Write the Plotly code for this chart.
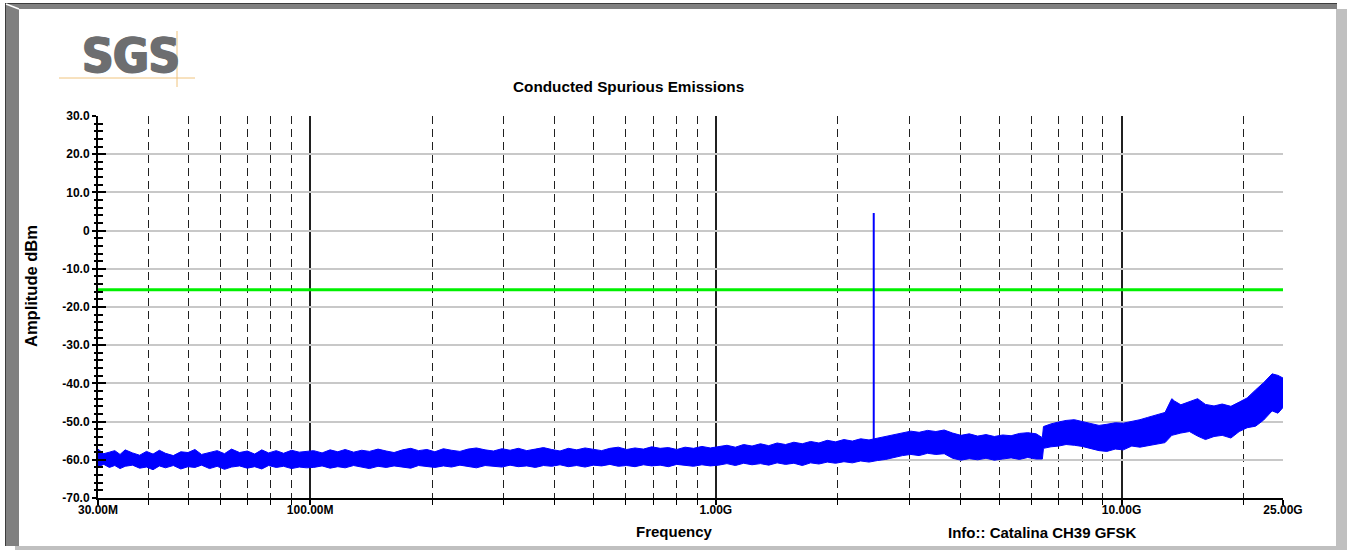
import plotly.graph_objects as go

# ---- chart data -------------------------------------------------------------
# sweep frequencies (MHz) at which the trace envelope is given
FREQ_MHZ = [
    30, 31, 32, 33, 34, 35, 36.5, 38, 39.5, 41, 42.5, 44, 46, 48, 50, 52, 54, 56.5, 59, 61.5,
    64, 67, 70, 73, 76, 79, 82.5, 86, 90, 94, 98,
    102, 107, 112, 117, 122, 128, 134, 140, 147, 154, 161, 169, 177, 185, 194, 203, 213, 223, 234,
    245, 257, 270, 283, 297, 311, 326, 342, 359, 376, 394, 413, 433, 454, 476, 499, 523, 548, 575,
    603, 632, 663, 695, 729, 764, 801, 840, 881, 924, 969,
    1016, 1065, 1117, 1171, 1228, 1288, 1350, 1416, 1485, 1557, 1633, 1712, 1795, 1882, 1973, 2069,
    2170, 2275, 2385, 2501, 2623, 2750, 2884, 3024, 3170, 3325, 3486, 3655, 3833, 4019, 4214, 4419,
    4633, 4858, 5094, 5342, 5601, 5873, 6158,
    6380, 6420, 6700, 7000, 7300, 7650, 8000, 8400, 8800, 9200, 9650, 10100, 10600, 11100, 11600,
    12200, 12800, 13300, 13500, 14000, 14700, 15400, 16100, 16900, 17700, 18600, 19500, 20400,
    21400, 22400, 23500, 24300, 25000,
]

# upper edge of the measured noise trace (dBm)
TRACE_MAX_DBM = [
    -57.2, -58.4, -58.0, -57.6, -58.6, -57.4, -58.2, -58.8, -57.8, -58.5, -57.5, -58.3, -58.9, -57.9,
    -58.1, -57.3, -58.6, -58.0, -57.6, -58.4, -57.2, -58.1, -57.7, -58.5, -57.4, -58.2, -57.6, -58.3,
    -57.5, -58.0, -57.8,
    -57.6, -58.2, -57.4, -57.9, -57.3, -58.0, -57.5, -57.8, -57.2, -57.7, -58.1, -57.4, -57.0, -57.6,
    -57.3, -57.9, -57.1, -57.5, -57.8, -57.2, -56.9, -57.4, -57.7, -57.1, -57.5, -57.0, -57.6, -57.2,
    -56.8, -57.3, -57.7, -57.0, -57.4, -56.9, -57.2, -57.6, -57.0, -56.7, -57.3, -56.9, -57.2, -56.6,
    -57.0, -56.8, -57.3, -56.7, -57.0, -56.5, -56.9,
    -56.6, -56.2, -56.7, -56.0, -56.4, -55.8, -56.3, -55.6, -56.0, -55.4, -55.8, -55.2, -55.6, -54.9,
    -55.3, -54.7, -55.1, -54.5, -54.8, -54.3, -53.9, -53.4, -52.9, -52.5, -52.8, -52.3, -52.6, -52.2,
    -53.0, -53.6, -53.2, -53.8, -53.4, -53.9, -53.5, -53.7, -53.1, -52.9, -53.2,
    -54.2, -51.3, -50.6, -50.1, -49.7, -49.5, -50.0, -50.6, -51.0, -50.7, -50.3, -50.4, -50.0, -49.5,
    -48.9, -48.3, -47.6, -44.0, -44.6, -45.6, -44.8, -44.0, -45.5, -45.9, -45.4, -46.0, -44.9, -43.8,
    -41.7, -39.8, -37.5, -37.9, -38.6,
]

# lower edge of the measured noise trace (dBm)
TRACE_MIN_DBM = [
    -61.8, -61.2, -62.0, -61.5, -62.3, -61.7, -61.4, -62.2, -61.9, -62.6, -61.6, -62.1, -61.5, -62.4,
    -61.8, -62.0, -61.4, -62.3, -61.7, -62.5, -61.9, -61.6, -62.2, -61.8, -62.4, -61.5, -62.0, -61.7,
    -62.3, -61.9, -62.1,
    -62.0, -61.6, -62.2, -61.8, -62.1, -61.5, -61.9, -62.3, -61.7, -62.0, -61.6, -61.9, -62.2, -61.5,
    -61.8, -62.0, -61.6, -61.9, -61.4, -61.8, -62.1, -61.5, -61.7, -61.9, -61.4, -61.8, -61.6, -62.0,
    -61.5, -61.7, -61.3, -61.8, -61.5, -61.9, -61.4, -61.6, -61.2, -61.7, -61.5, -61.8, -61.3, -61.6,
    -61.4, -61.8, -61.2, -61.5, -61.7, -61.3, -61.6,
    -61.4, -61.0, -61.5, -60.9, -61.3, -61.0, -61.4, -60.8, -61.2, -60.9, -61.5, -60.8, -61.1, -60.6,
    -60.9, -60.5, -60.8, -60.3, -60.6, -60.2, -59.9, -59.4, -58.9, -58.6, -58.9, -58.3, -58.6, -58.4,
    -59.6, -60.1, -59.7, -60.0, -59.6, -60.1, -59.8, -59.5, -59.9, -59.4, -59.8,
    -59.8, -57.0, -56.6, -56.4, -56.0, -56.2, -56.5, -57.0, -57.6, -57.8, -57.2, -57.4, -56.4, -56.7,
    -56.3, -55.9, -55.5, -53.6, -53.4, -53.0, -52.6, -53.8, -54.7, -53.9, -53.6, -54.3, -52.6, -51.6,
    -51.2, -49.6, -47.2, -47.8, -46.3,
]

# carrier peak
CARRIER_MHZ = 2450
CARRIER_BASE_DBM = -56.0
CARRIER_PEAK_DBM = 4.6

# limit line
LIMIT_DBM = -15.5

# axis ticks
X_MAJOR = [30, 100, 1000, 10000, 25000]
X_MAJOR_TEXT = ["30.00M", "100.00M", "1.00G", "10.00G", "25.00G"]
X_MINOR = [40, 50, 60, 70, 80, 90,
           200, 300, 400, 500, 600, 700, 800, 900,
           2000, 3000, 4000, 5000, 6000, 7000, 8000, 9000,
           20000]
Y_TICKS = [30, 20, 10, 0, -10, -20, -30, -40, -50, -60, -70]
Y_TICK_TEXT = ["30.0", "20.0", "10.0", "0", "-10.0", "-20.0", "-30.0", "-40.0",
               "-50.0", "-60.0", "-70.0"]

assert len(FREQ_MHZ) == len(TRACE_MAX_DBM) == len(TRACE_MIN_DBM)

# ---- page geometry (pixels) ------------------------------------------------
W, H = 1347, 550
PL, PR, PT, PB = 98, 1283, 116, 498   # plot area edges


def px(x):
    return (x - PL) / (PR - PL)


def py(y):
    return (PB - y) / (PB - PT)


FONT = "Liberation Sans, Arial, Helvetica, sans-serif"
BLUE = "#0000ff"

fig = go.Figure()

# noise floor trace drawn as its max/min envelope
fig.add_trace(go.Scatter(
    x=FREQ_MHZ + FREQ_MHZ[::-1],
    y=TRACE_MAX_DBM + TRACE_MIN_DBM[::-1],
    mode="lines", fill="toself", fillcolor=BLUE,
    line=dict(color=BLUE, width=1),
    hoverinfo="skip", showlegend=False,
))

# limit line
fig.add_trace(go.Scatter(
    x=[FREQ_MHZ[0], FREQ_MHZ[-1]], y=[LIMIT_DBM, LIMIT_DBM],
    mode="lines", line=dict(color="#00f000", width=3),
    yaxis="y2", showlegend=False, hoverinfo="skip",
))

# carrier
fig.add_trace(go.Scatter(
    x=[CARRIER_MHZ, CARRIER_MHZ], y=[CARRIER_BASE_DBM, CARRIER_PEAK_DBM],
    mode="lines", line=dict(color=BLUE, width=2),
    yaxis="y2", showlegend=False, hoverinfo="skip",
))

tickfont = dict(family=FONT, size=12, color="black", weight="bold")

fig.update_layout(
    width=W, height=H,
    margin=dict(l=PL, r=W - PR, t=PT, b=H - PB, pad=0),
    paper_bgcolor="white", plot_bgcolor="white",
    showlegend=False,
    xaxis=dict(
        type="log", range=[1.47712125, 4.39794001],
        tickmode="array", tickvals=X_MAJOR, ticktext=X_MAJOR_TEXT,
        tickfont=tickfont, ticks="outside", ticklen=5, tickwidth=1.5, tickcolor="black",
        ticklabelstandoff=-5,
        showgrid=True, gridcolor="#202020", gridwidth=1.5,
        showline=True, linecolor="black", linewidth=2, mirror=False,
        minor=dict(tickmode="array", tickvals=X_MINOR, ticks="outside", ticklen=5,
                   tickwidth=1, tickcolor="black", showgrid=True,
                   gridcolor="#202020", gridwidth=1, griddash="8px,5px"),
        zeroline=False, fixedrange=True,
    ),
    yaxis=dict(
        range=[-70, 30], tickmode="array", tickvals=Y_TICKS, ticktext=Y_TICK_TEXT,
        tickfont=tickfont, ticks="outside", ticklen=4, tickwidth=1.5, tickcolor="black",
        showgrid=True, gridcolor="#c8c8c8", gridwidth=2,
        showline=True, linecolor="black", linewidth=2,
        minor=dict(dtick=2, ticks="outside", ticklen=2, tickwidth=1.5, tickcolor="black",
                   showgrid=False),
        zeroline=False, fixedrange=True,
    ),
    yaxis2=dict(
        range=[-70, 30], overlaying="y", side="left", anchor="x",
        tickmode="array", tickvals=Y_TICKS, showticklabels=False,
        ticks="inside", ticklen=8, tickwidth=1.5, tickcolor="black",
        minor=dict(dtick=2, ticks="inside", ticklen=5, tickwidth=1.5, tickcolor="black",
                   showgrid=False),
        showgrid=False, showline=False, zeroline=False, fixedrange=True,
    ),
)

# ---- window frame ------------------------------------------------------------
frame = [
    # left dark bevel
    dict(x0=5, x1=19, y0=3, y1=546, color="#808080"),
    # top dark bevel
    dict(x0=5, x1=1337, y0=3, y1=9, color="#808080"),
    # right light bevel
    dict(x0=1336, x1=1347, y0=9, y1=550, color="#c0c0c0"),
    # bottom light bevel
    dict(x0=15, x1=1347, y0=546, y1=550, color="#c0c0c0"),
    # dark outer edge lines
    dict(x0=5, x1=6, y0=3, y1=546, color="#3c3c3c"),
    dict(x0=5, x1=1337, y0=3, y1=4, color="#3c3c3c"),
]
shapes = []
for f in frame:
    shapes.append(dict(type="rect", xref="paper", yref="paper",
                       x0=px(f["x0"]), x1=px(f["x1"]), y0=py(f["y1"]), y1=py(f["y0"]),
                       fillcolor=f["color"], line=dict(width=0), layer="above"))
# bevel corner highlight
shapes.append(dict(type="line", xref="paper", yref="paper",
                   x0=px(6), y0=py(4), x1=px(19), y1=py(9),
                   line=dict(color="white", width=1.5)))

# logo guide lines
LOGO_ORANGE = "#f0c47e"
shapes.append(dict(type="line", xref="paper", yref="paper",
                   x0=px(59), y0=py(78), x1=px(195), y1=py(78),
                   line=dict(color=LOGO_ORANGE, width=1)))
shapes.append(dict(type="line", xref="paper", yref="paper",
                   x0=px(177), y0=py(31), x1=px(177), y1=py(87),
                   line=dict(color=LOGO_ORANGE, width=1)))
fig.update_layout(shapes=shapes)


def label(text, x, y, size, angle=0, family=FONT, color="black", weight="bold",
          shadow=None):
    font = dict(family=family, size=size, color=color, weight=weight)
    if shadow:
        font["shadow"] = shadow
    fig.add_annotation(text=text, xref="paper", yref="paper", x=px(x), y=py(y),
                       xanchor="center", yanchor="middle", showarrow=False,
                       textangle=angle, font=font)


LOGO_GREY = "#6d6e70"
label("SGS", 131, 55, 48,
      family="DejaVu Sans Condensed, Liberation Sans Narrow, sans-serif",
      color=LOGO_GREY,
      shadow=f"1.5px 0 0 {LOGO_GREY}, -1px 0 0 {LOGO_GREY}, 0 1px 0 {LOGO_GREY}")
label("Conducted Spurious Emissions", 628, 86, 15.3)
label("Amplitude dBm", 31, 286, 16.5, angle=-90)
label("Frequency", 674, 531, 15)
label("Info:: Catalina CH39 GFSK", 1042, 532, 15)

fig.write_html("out.html")
